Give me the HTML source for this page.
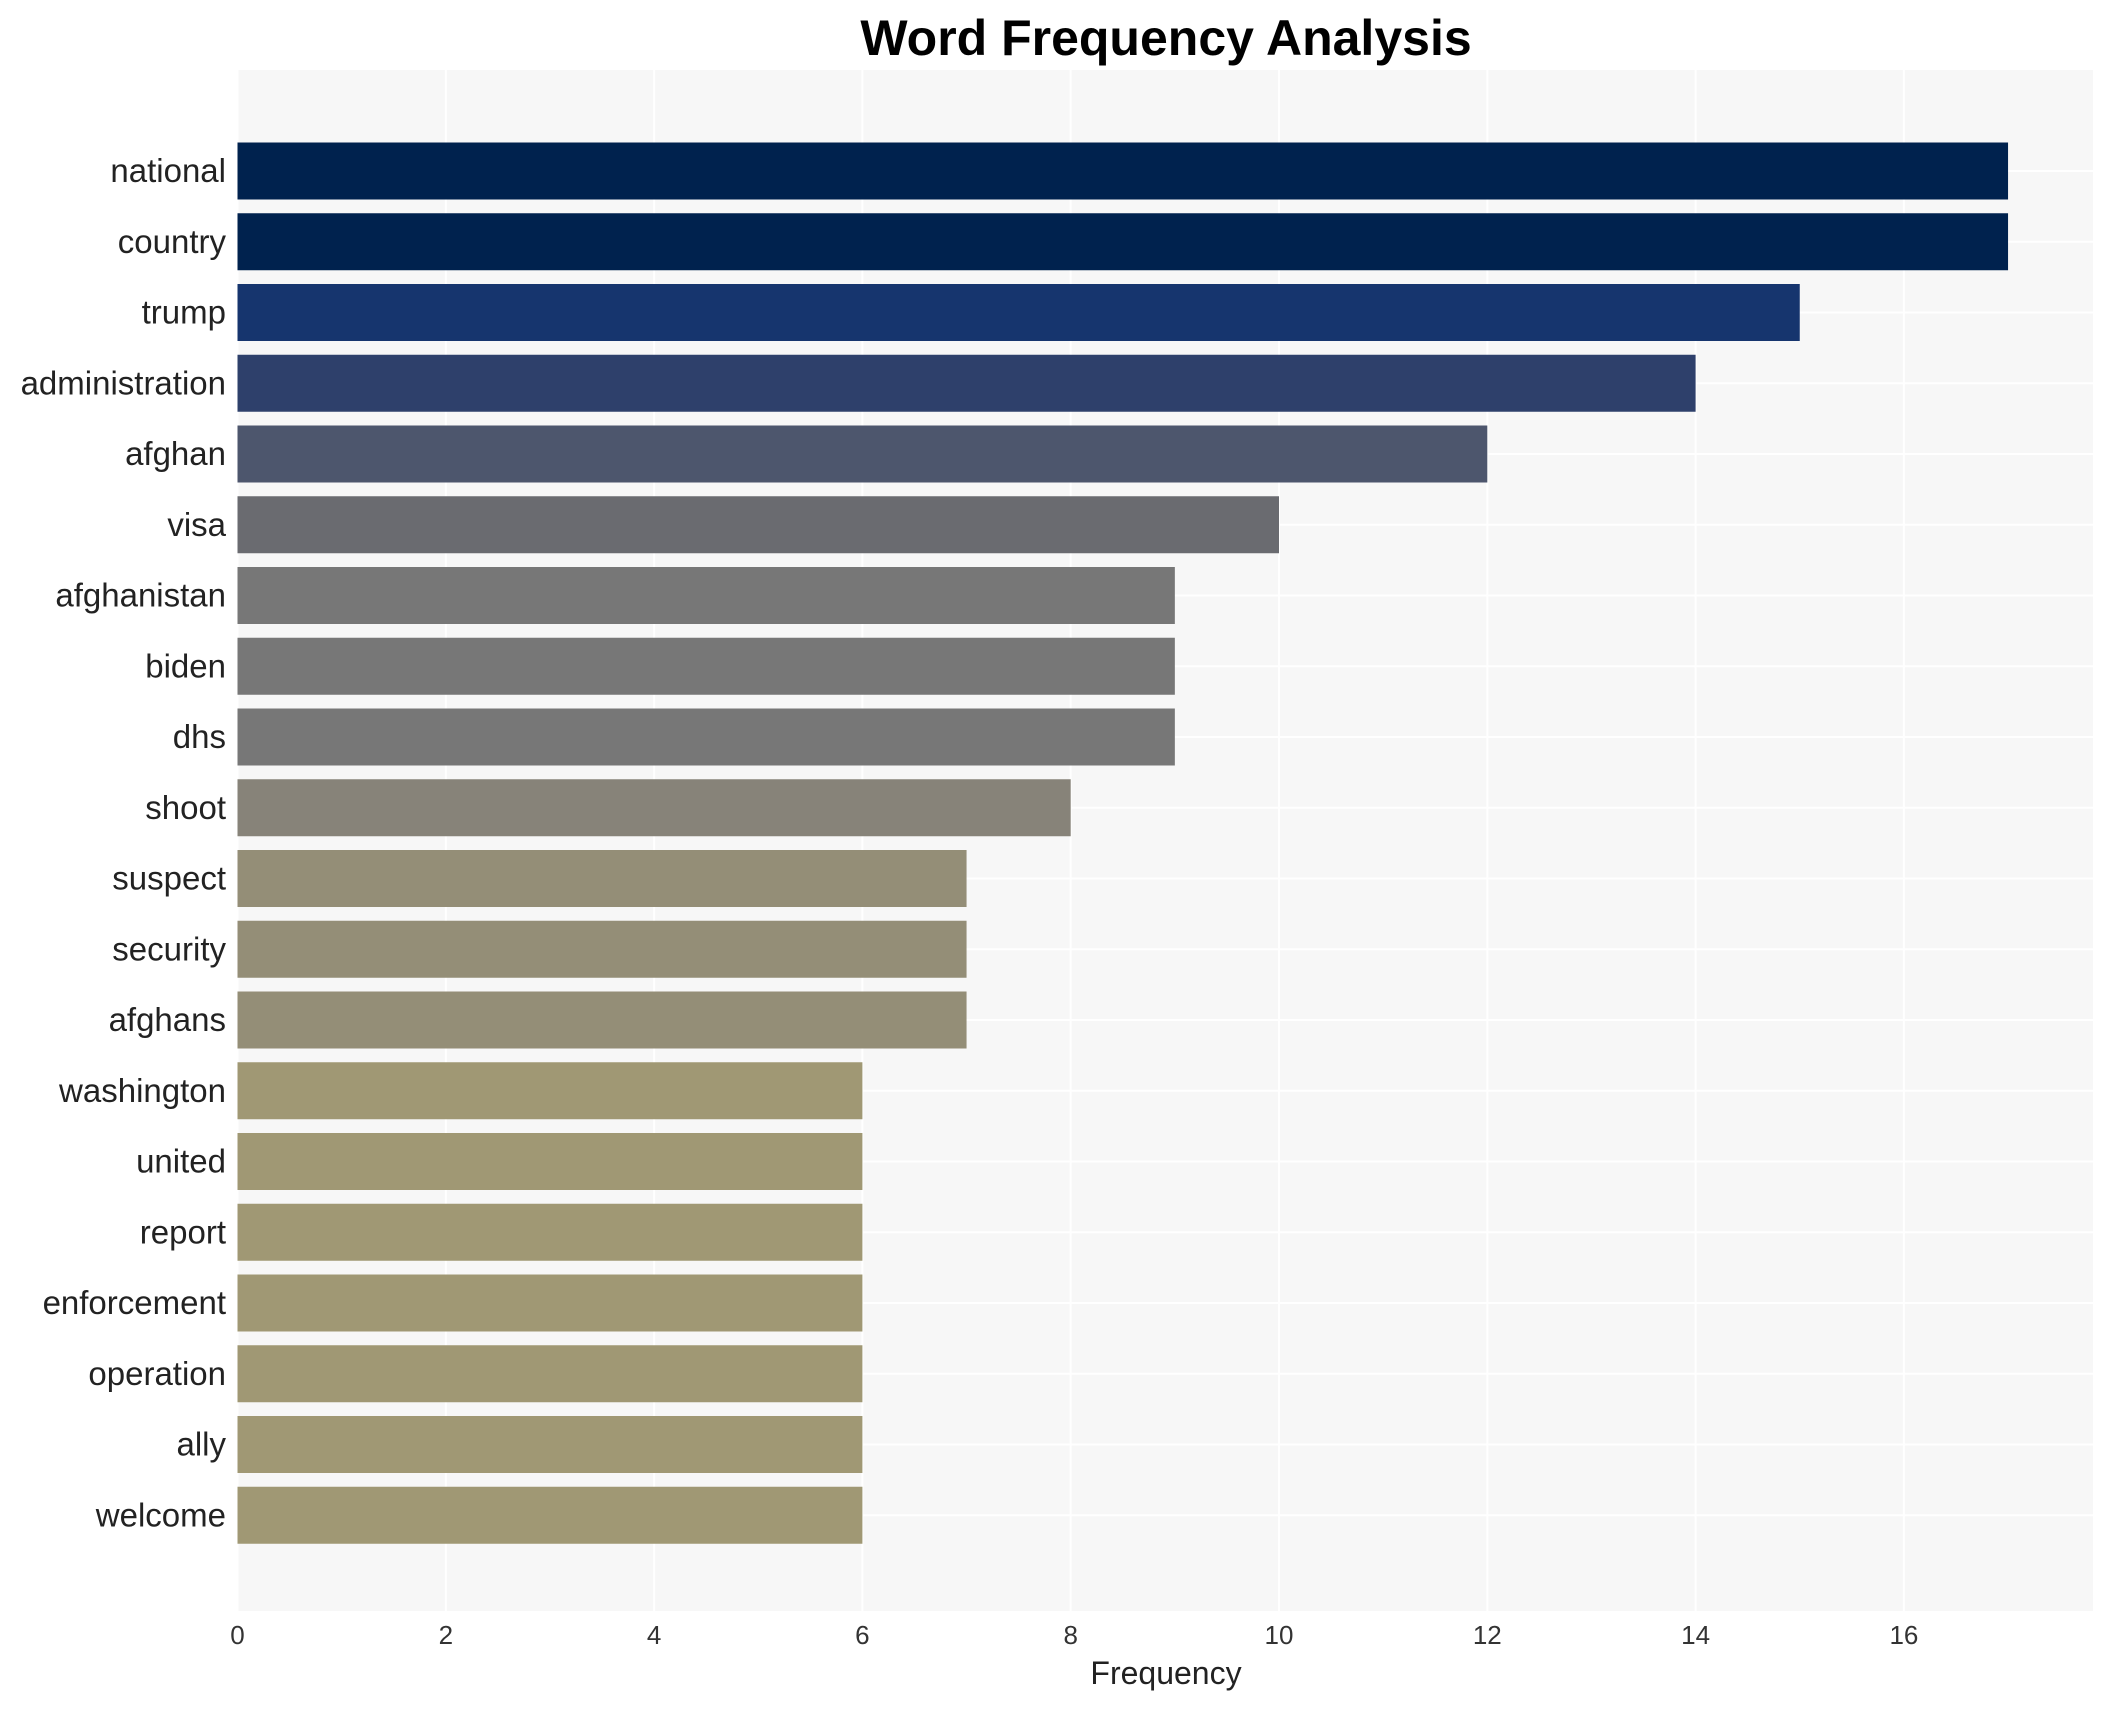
<!DOCTYPE html>
<html><head><meta charset="utf-8"><style>
body{margin:0;background:#fff;font-family:"Liberation Sans",Arial,sans-serif;}
</style></head><body>
<svg id="chart" width="2117" height="1710" xmlns="http://www.w3.org/2000/svg"></svg>
<script>
const categories=["national","country","trump","administration","afghan","visa","afghanistan","biden","dhs","shoot","suspect","security","afghans","washington","united","report","enforcement","operation","ally","welcome"];
const values=[17,17,15,14,12,10,9,9,9,8,7,7,7,6,6,6,6,6,6,6];
const colors=["#00224e","#00224e","#16356e","#2e406b","#4d566d","#6a6b70","#777777","#777777","#777777","#878379","#948e77","#948e77","#948e77","#a09874","#a09874","#a09874","#a09874","#a09874","#a09874","#a09874"];
const xTicks=[0,2,4,6,8,10,12,14,16];
const NS="http://www.w3.org/2000/svg";
const svg=document.getElementById('chart');
const L=237.5,R=2093,T=70,B=1611;
const x=v=>L+v*104.15;
const step=70.75, y0=171;
const y=i=>y0+i*step;
const bh=57;
function el(t,a){const e=document.createElementNS(NS,t);for(const k in a)e.setAttribute(k,a[k]);svg.appendChild(e);return e;}
const bg=el('rect',{x:L,y:T,width:R-L,height:B-T,fill:'#f7f7f7'});


xTicks.forEach(t=>{
 const g=el('line',{x1:x(t),x2:x(t),y1:T,y2:B,stroke:'#ffffff','stroke-width':2});
 
 
 const tx=el('text',{x:x(t),y:1644,'text-anchor':'middle','font-size':26,fill:'#333'});
 tx.textContent=t;
 
 
});
categories.forEach((c,i)=>{
 const gl=el('line',{x1:L,x2:R,y1:y(i),y2:y(i),stroke:'#ffffff','stroke-width':2});
 
 
 const b=el('rect',{x:x(0),y:y(i)-bh/2,width:x(values[i])-x(0),height:bh,fill:colors[i]});
 
 
 const t=el('text',{x:226,y:y(i)+11,'text-anchor':'end','font-size':33,fill:'#222'});
 t.textContent=c;
 
 
});
const ti=el('text',{x:1166,y:55,'text-anchor':'middle','font-size':50,'font-weight':'bold',fill:'#000'});
ti.textContent='Word Frequency Analysis';


const xl=el('text',{x:1166,y:1684,'text-anchor':'middle','font-size':32,fill:'#222'});
xl.textContent='Frequency';


</script>
</body></html>
